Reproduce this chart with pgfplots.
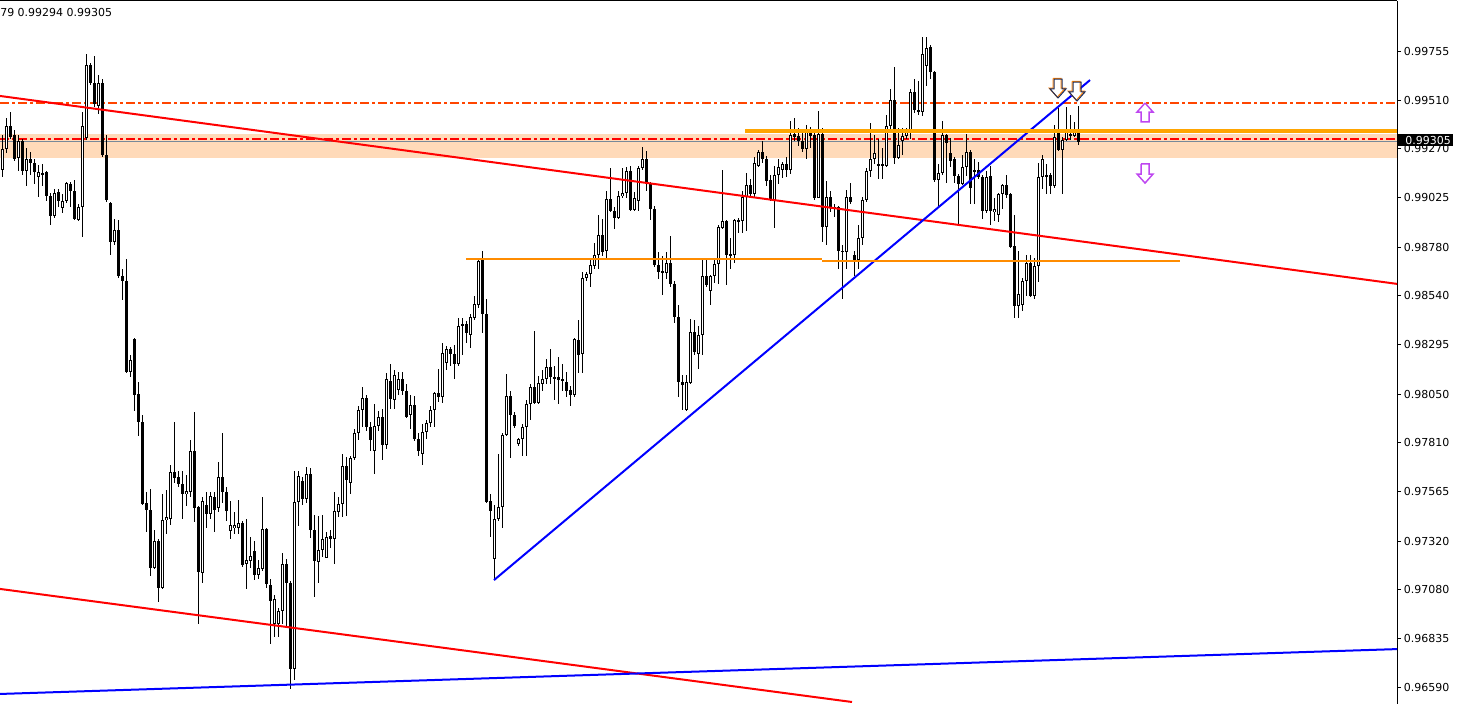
\documentclass[border=0pt]{standalone}
\usepackage{fontspec}
\usepackage{pgfplots}
\usepackage{pgfplotstable}
\pgfplotsset{compat=1.18}
\newfontfamily\chartfont{DejaVu Sans}
\newcommand\tf{\chartfont\fontsize{8.25bp}{10bp}\selectfont}

\definecolor{peach}{RGB}{255,218,185}
\definecolor{mtorange}{RGB}{255,165,0}
\definecolor{darkorange}{RGB}{255,140,0}
\definecolor{askorange}{RGB}{255,69,0}
\definecolor{bidgray}{RGB}{119,136,153}
\definecolor{violetarrow}{RGB}{190,70,240}
\definecolor{navyarrow}{RGB}{30,45,90}

% one row per bar: index, open, high, low, close
\pgfplotstableread{
i o h l c
0 0.99164 0.99338 0.99129 0.99268
1 0.99268 0.99423 0.99249 0.99383
2 0.99383 0.99452 0.99318 0.99328
3 0.99338 0.99363 0.99209 0.99219
4 0.99224 0.99338 0.99159 0.99308
5 0.99308 0.99318 0.99139 0.99159
6 0.99159 0.99273 0.99085 0.99219
7 0.99219 0.99254 0.99139 0.99199
8 0.99199 0.99219 0.99095 0.99154
9 0.99129 0.99189 0.99030 0.99154
10 0.99139 0.99194 0.99085 0.99149
11 0.99154 0.99159 0.99010 0.99035
12 0.99035 0.99050 0.98891 0.98935
13 0.98935 0.99070 0.98926 0.99050
14 0.99055 0.99070 0.98980 0.99010
15 0.98975 0.99045 0.98950 0.99010
16 0.99010 0.99104 0.99000 0.99099
17 0.99095 0.99104 0.98980 0.99060
18 0.99060 0.99114 0.98916 0.98921
19 0.98916 0.98995 0.98911 0.98980
20 0.98980 0.99452 0.98831 0.99383
21 0.99323 0.99741 0.99313 0.99686
22 0.99686 0.99696 0.99587 0.99596
23 0.99596 0.99731 0.99477 0.99492
24 0.99482 0.99636 0.99442 0.99596
25 0.99596 0.99616 0.99229 0.99239
26 0.99239 0.99338 0.99005 0.99015
27 0.99000 0.99005 0.98742 0.98806
28 0.98806 0.98921 0.98791 0.98866
29 0.98866 0.98916 0.98627 0.98637
30 0.98637 0.98672 0.98518 0.98612
31 0.98612 0.98722 0.98155 0.98160
32 0.98160 0.98245 0.98135 0.98220
33 0.98324 0.98329 0.97966 0.98046
34 0.98051 0.98110 0.97842 0.97912
35 0.97912 0.97946 0.97499 0.97504
36 0.97509 0.97564 0.97365 0.97474
37 0.97474 0.97579 0.97146 0.97186
38 0.97186 0.97375 0.97181 0.97320
39 0.97320 0.97330 0.97017 0.97087
40 0.97087 0.97554 0.97082 0.97425
41 0.97425 0.97574 0.97355 0.97440
42 0.97430 0.97698 0.97400 0.97663
43 0.97663 0.97912 0.97608 0.97633
44 0.97638 0.97668 0.97589 0.97604
45 0.97604 0.97668 0.97430 0.97554
46 0.97554 0.97648 0.97494 0.97569
47 0.97564 0.97822 0.97539 0.97768
48 0.97768 0.97961 0.97415 0.97484
49 0.97489 0.97494 0.96908 0.97166
50 0.97161 0.97539 0.97111 0.97519
51 0.97499 0.97564 0.97385 0.97454
52 0.97454 0.97564 0.97430 0.97544
53 0.97539 0.97564 0.97365 0.97474
54 0.97484 0.97713 0.97464 0.97638
55 0.97638 0.97857 0.97509 0.97564
56 0.97564 0.97589 0.97420 0.97469
57 0.97370 0.97519 0.97330 0.97400
58 0.97385 0.97464 0.97355 0.97400
59 0.97385 0.97524 0.97355 0.97410
60 0.97410 0.97420 0.97191 0.97201
61 0.97206 0.97430 0.97082 0.97226
62 0.97221 0.97340 0.97186 0.97246
63 0.97271 0.97320 0.97126 0.97151
64 0.97151 0.97226 0.97131 0.97186
65 0.97181 0.97539 0.97171 0.97380
66 0.97380 0.97385 0.97087 0.97107
67 0.97102 0.97131 0.96808 0.97022
68 0.96908 0.97052 0.96843 0.97032
69 0.96908 0.96987 0.96843 0.96972
70 0.96972 0.97261 0.96908 0.97206
71 0.97206 0.97231 0.96888 0.97111
72 0.97111 0.97121 0.96585 0.96684
73 0.96684 0.97668 0.96629 0.97514
74 0.97514 0.97668 0.97395 0.97643
75 0.97618 0.97638 0.97499 0.97529
76 0.97529 0.97688 0.97509 0.97653
77 0.97653 0.97683 0.97335 0.97375
78 0.97375 0.97449 0.97042 0.97221
79 0.97216 0.97444 0.97111 0.97276
80 0.97276 0.97449 0.97241 0.97330
81 0.97236 0.97365 0.97236 0.97340
82 0.97345 0.97375 0.97285 0.97330
83 0.97330 0.97564 0.97206 0.97469
84 0.97464 0.97539 0.97440 0.97504
85 0.97504 0.97753 0.97440 0.97693
86 0.97693 0.97738 0.97444 0.97623
87 0.97608 0.97743 0.97554 0.97733
88 0.97733 0.97877 0.97723 0.97857
89 0.97857 0.97991 0.97822 0.97971
90 0.97971 0.98086 0.97887 0.98031
91 0.98031 0.98046 0.97867 0.97887
92 0.97887 0.97912 0.97768 0.97822
93 0.97768 0.98001 0.97653 0.97892
94 0.97892 0.97966 0.97867 0.97937
95 0.97937 0.97976 0.97723 0.97797
96 0.97797 0.98155 0.97777 0.98125
97 0.98115 0.98200 0.97976 0.98026
98 0.98021 0.98170 0.97976 0.98145
99 0.98071 0.98160 0.98046 0.98125
100 0.98125 0.98160 0.98046 0.98066
101 0.98066 0.98101 0.97932 0.97937
102 0.97946 0.98046 0.97877 0.97996
103 0.97996 0.98041 0.97817 0.97827
104 0.97827 0.97857 0.97743 0.97768
105 0.97753 0.97902 0.97698 0.97862
106 0.97862 0.97922 0.97827 0.97907
107 0.97907 0.97991 0.97887 0.97971
108 0.97971 0.98061 0.97887 0.98056
109 0.98056 0.98175 0.98011 0.98036
110 0.98036 0.98304 0.98006 0.98255
111 0.98205 0.98289 0.98170 0.98274
112 0.98274 0.98284 0.98190 0.98250
113 0.98250 0.98294 0.98125 0.98200
114 0.98200 0.98429 0.98190 0.98389
115 0.98399 0.98429 0.98245 0.98389
116 0.98399 0.98414 0.98304 0.98354
117 0.98344 0.98448 0.98279 0.98434
118 0.98429 0.98538 0.98419 0.98498
119 0.98493 0.98727 0.98478 0.98712
120 0.98717 0.98762 0.98354 0.98448
121 0.98448 0.98523 0.97509 0.97514
122 0.97519 0.97554 0.97340 0.97469
123 0.97231 0.97499 0.97126 0.97430
124 0.97430 0.97753 0.97420 0.97489
125 0.97489 0.97857 0.97385 0.97847
126 0.97847 0.98150 0.97842 0.98041
127 0.98041 0.98066 0.97733 0.97946
128 0.97946 0.97961 0.97882 0.97892
129 0.97802 0.97832 0.97792 0.97827
130 0.97827 0.97902 0.97743 0.97887
131 0.97887 0.98021 0.97743 0.98001
132 0.98001 0.98101 0.97922 0.98086
133 0.98086 0.98364 0.98001 0.98006
134 0.98006 0.98140 0.98001 0.98105
135 0.98101 0.98170 0.98066 0.98125
136 0.98125 0.98225 0.98101 0.98185
137 0.98185 0.98274 0.98101 0.98135
138 0.98135 0.98190 0.98021 0.98125
139 0.98135 0.98235 0.98001 0.98120
140 0.98115 0.98200 0.98066 0.98125
141 0.98110 0.98160 0.98036 0.98066
142 0.98071 0.98091 0.97991 0.98046
143 0.98046 0.98329 0.98036 0.98324
144 0.98319 0.98419 0.98155 0.98245
145 0.98250 0.98657 0.98155 0.98627
146 0.98627 0.98657 0.98612 0.98647
147 0.98647 0.98727 0.98583 0.98692
148 0.98687 0.98801 0.98672 0.98742
149 0.98742 0.98940 0.98672 0.98841
150 0.98841 0.98921 0.98737 0.98757
151 0.98762 0.99060 0.98727 0.99020
152 0.99020 0.99174 0.98955 0.98960
153 0.98960 0.98980 0.98871 0.98926
154 0.98926 0.99060 0.98921 0.99035
155 0.99035 0.99174 0.99025 0.99050
156 0.99050 0.99179 0.99025 0.99159
157 0.99159 0.99184 0.98960 0.98965
158 0.98965 0.99055 0.98960 0.99025
159 0.99010 0.99184 0.98960 0.99174
160 0.99174 0.99278 0.99164 0.99219
161 0.99219 0.99259 0.99060 0.99095
162 0.99095 0.99104 0.98916 0.98970
163 0.98970 0.98985 0.98682 0.98692
164 0.98692 0.98757 0.98622 0.98657
165 0.98662 0.98737 0.98543 0.98652
166 0.98652 0.98757 0.98622 0.98702
167 0.98702 0.98836 0.98583 0.98598
168 0.98598 0.98612 0.98404 0.98434
169 0.98434 0.98493 0.98036 0.98110
170 0.98110 0.98145 0.97971 0.98096
171 0.97971 0.98145 0.97966 0.98110
172 0.98105 0.98424 0.98101 0.98359
173 0.98359 0.98419 0.98245 0.98260
174 0.98250 0.98389 0.98175 0.98344
175 0.98344 0.98717 0.98245 0.98637
176 0.98637 0.98717 0.98583 0.98593
177 0.98563 0.98642 0.98493 0.98637
178 0.98637 0.98717 0.98603 0.98697
179 0.98697 0.98891 0.98598 0.98881
180 0.98876 0.99164 0.98871 0.98911
181 0.98911 0.98916 0.98593 0.98742
182 0.98747 0.98826 0.98672 0.98737
183 0.98742 0.98921 0.98702 0.98916
184 0.98916 0.98926 0.98851 0.98906
185 0.98911 0.99060 0.98851 0.99030
186 0.99030 0.99149 0.98861 0.99090
187 0.99090 0.99119 0.99030 0.99045
188 0.99045 0.99229 0.99030 0.99199
189 0.99184 0.99264 0.99179 0.99254
190 0.99254 0.99308 0.99199 0.99219
191 0.99219 0.99234 0.99085 0.99109
192 0.99114 0.99139 0.99010 0.99015
193 0.99015 0.99184 0.98876 0.99139
194 0.99139 0.99219 0.99095 0.99179
195 0.99164 0.99204 0.99124 0.99194
196 0.99194 0.99229 0.99129 0.99164
197 0.99164 0.99408 0.99144 0.99338
198 0.99343 0.99423 0.99308 0.99328
199 0.99333 0.99373 0.99283 0.99308
200 0.99308 0.99353 0.99254 0.99268
201 0.99268 0.99388 0.99219 0.99368
202 0.99368 0.99378 0.99273 0.99333
203 0.99338 0.99363 0.99015 0.99025
204 0.99025 0.99457 0.99025 0.99343
205 0.99343 0.99373 0.98806 0.98881
206 0.98881 0.99109 0.98791 0.99030
207 0.99030 0.99060 0.98955 0.98980
208 0.98980 0.98995 0.98931 0.98970
209 0.98980 0.98985 0.98672 0.98762
210 0.98762 0.98791 0.98523 0.98757
211 0.98757 0.99065 0.98672 0.99030
212 0.99030 0.99099 0.98995 0.99005
213 0.98742 0.98762 0.98637 0.98717
214 0.98717 0.98891 0.98672 0.98826
215 0.98826 0.99030 0.98791 0.99015
216 0.99015 0.99174 0.99005 0.99159
217 0.99159 0.99398 0.99129 0.99219
218 0.99219 0.99338 0.99194 0.99249
219 0.99194 0.99318 0.99119 0.99189
220 0.99194 0.99273 0.99119 0.99184
221 0.99184 0.99437 0.99179 0.99383
222 0.99383 0.99567 0.99353 0.99512
223 0.99512 0.99676 0.99194 0.99224
224 0.99224 0.99373 0.99219 0.99288
225 0.99308 0.99373 0.99239 0.99333
226 0.99333 0.99373 0.99318 0.99353
227 0.99353 0.99567 0.99318 0.99552
228 0.99552 0.99616 0.99447 0.99462
229 0.99452 0.99606 0.99437 0.99462
230 0.99452 0.99825 0.99432 0.99741
231 0.99681 0.99825 0.99582 0.99770
232 0.99775 0.99785 0.99616 0.99651
233 0.99651 0.99656 0.99104 0.99114
234 0.99114 0.99194 0.98985 0.99149
235 0.99149 0.99408 0.99139 0.99338
236 0.99338 0.99343 0.99099 0.99298
237 0.99249 0.99323 0.99179 0.99209
238 0.99219 0.99229 0.99099 0.99134
239 0.99134 0.99144 0.98891 0.99095
240 0.99095 0.99239 0.99090 0.99179
241 0.99179 0.99343 0.99134 0.99254
242 0.99254 0.99264 0.98995 0.99075
243 0.99164 0.99219 0.98995 0.99154
244 0.99164 0.99204 0.99119 0.99129
245 0.99129 0.99139 0.98921 0.98960
246 0.98960 0.99159 0.98950 0.99129
247 0.99134 0.99184 0.98891 0.98960
248 0.98955 0.99025 0.98911 0.98970
249 0.98940 0.99050 0.98906 0.99045
250 0.99045 0.99095 0.98970 0.99090
251 0.99090 0.99139 0.99025 0.99040
252 0.99045 0.99050 0.98776 0.98781
253 0.98786 0.98940 0.98429 0.98488
254 0.98488 0.98762 0.98429 0.98548
255 0.98493 0.98627 0.98463 0.98612
256 0.98612 0.98742 0.98538 0.98702
257 0.98702 0.98742 0.98533 0.98538
258 0.98538 0.98727 0.98523 0.98687
259 0.98687 0.99199 0.98607 0.99129
260 0.99129 0.99239 0.99070 0.99219
261 0.99139 0.99194 0.99045 0.99134
262 0.99139 0.99149 0.99045 0.99085
263 0.99085 0.99388 0.99075 0.99328
264 0.99353 0.99472 0.99259 0.99264
265 0.99264 0.99328 0.99045 0.99313
266 0.99313 0.99477 0.99308 0.99363
267 0.99333 0.99437 0.99313 0.99343
268 0.99333 0.99403 0.99328 0.99368
269 0.99368 0.99482 0.99288 0.99305
}\candles

\begin{document}
\begin{tikzpicture}
\begin{axis}[
  at={(0,0)}, anchor=south west, scale only axis,
  width=1047.75bp, height=527.25bp,
  xmin=-0.675, xmax=348.575,
  ymin=0.965101, ymax=1.00004,
  axis x line*=top, axis y line*=right,
  axis line style={black, line width=0.75bp},
  xtick=\empty,
  ytick={0.96590,0.96835,0.97080,0.97320,0.97565,0.97810,0.98050,0.98295,0.98540,0.98780,0.99025,0.99270,0.99510,0.99755},
  yticklabels={0.96590,0.96835,0.97080,0.97320,0.97565,0.97810,0.98050,0.98295,0.98540,0.98780,0.99025,0.99270,0.99510,0.99755},
  tick align=outside, major tick length=3bp,
  tick style={black, line width=0.75bp},
  yticklabel style={font=\tf, anchor=west, inner sep=0pt, xshift=2bp},
  clip=false,
]
% support zone
\addplot[draw=none, fill=peach] coordinates {(-0.675,0.99224) (348.575,0.99224) (348.575,0.99341) (-0.675,0.99341)};

% price lines
\addplot[askorange, line width=1.5bp, dash pattern=on 6.75bp off 2.25bp on 2.25bp off 2.25bp] coordinates {(-0.675,0.994946) (348.575,0.994946)};
\addplot[red, line width=1.5bp, dash pattern=on 6.75bp off 2.25bp on 2.25bp off 2.25bp] coordinates {(-0.675,0.993182) (348.575,0.993182)};
\addplot[bidgray, line width=0.75bp] coordinates {(-0.675,0.993058) (348.575,0.993058)};

% wicks
\addplot[draw=none, mark=none, error bars/.cd, y dir=both, y explicit, error mark=none,
  error bar style={draw=black, solid, line width=0.75bp}]
  table[x=i, y expr={(max(\thisrow{h},\thisrow{o},\thisrow{c})+min(\thisrow{l},\thisrow{o},\thisrow{c}))/2},
    y error expr={(max(\thisrow{h},\thisrow{o},\thisrow{c})-min(\thisrow{l},\thisrow{o},\thisrow{c}))/2}] {\candles};
% bodies
\addplot[draw=none, mark=none, error bars/.cd, y dir=both, y explicit, error mark=none,
  error bar style={draw=black, solid, line width=2.25bp}]
  table[x=i, y expr={(\thisrow{o}+\thisrow{c})/2}, y error expr={max(abs(\thisrow{c}-\thisrow{o})/2,0.000025)}] {\candles};
% hollow inside of rising bars
\addplot[draw=none, mark=none, restrict expr to domain={\thisrow{c}-\thisrow{o}}{0.00011:1},
  error bars/.cd, y dir=both, y explicit, error mark=none,
  error bar style={draw=white, solid, line width=0.75bp}]
  table[x=i, y expr={(\thisrow{o}+\thisrow{c})/2}, y error expr={max((\thisrow{c}-\thisrow{o})/2-0.00005,0)}] {\candles};

% trend lines
\addplot[red, line width=1.5bp] coordinates {(-0.675,0.99532) (348.575,0.98598)};
\addplot[red, line width=1.5bp] coordinates {(-0.675,0.97082) (212.325,0.96520)};
\addplot[blue, line width=1.5bp] coordinates {(-0.675,0.96560) (348.575,0.96783)};
\addplot[blue, line width=1.5bp] coordinates {(122.825,0.97126) (271.825,0.99611)};

% horizontal levels
\addplot[mtorange, line width=2.5bp] coordinates {(185.575,0.99358) (348.575,0.99358)};
\addplot[darkorange, line width=1.5bp] coordinates {(115.825,0.98722) (204.825,0.98722)};
\addplot[darkorange, line width=1.5bp] coordinates {(204.825,0.98714) (294.325,0.98714)};

% arrow signs
\addplot[draw=orange, fill=white, line width=0.75bp, xshift=-0.6bp, yshift=0.6bp] coordinates {(262.825,0.99616) (264.825,0.99616) (264.825,0.99567) (265.825,0.99567) (263.825,0.99522) (261.825,0.99567) (262.825,0.99567) (262.825,0.99616)};
\addplot[draw=navyarrow, line width=0.75bp] coordinates {(262.825,0.99616) (264.825,0.99616) (264.825,0.99567) (265.825,0.99567) (263.825,0.99522) (261.825,0.99567) (262.825,0.99567) (262.825,0.99616)};
\addplot[draw=orange, fill=white, line width=0.75bp, xshift=-0.6bp, yshift=0.6bp] coordinates {(267.575,0.99601) (269.575,0.99601) (269.575,0.99552) (270.575,0.99552) (268.575,0.99507) (266.575,0.99552) (267.575,0.99552) (267.575,0.99601)};
\addplot[draw=navyarrow, line width=0.75bp] coordinates {(267.575,0.99601) (269.575,0.99601) (269.575,0.99552) (270.575,0.99552) (268.575,0.99507) (266.575,0.99552) (267.575,0.99552) (267.575,0.99601)};
\addplot[draw=violetarrow, fill=white, line width=1.1bp] coordinates {(285.575,0.99497) (287.575,0.99452) (286.575,0.99452) (286.575,0.99403) (284.575,0.99403) (284.575,0.99452) (283.575,0.99452) (285.575,0.99497)};
\addplot[draw=violetarrow, fill=white, line width=1.1bp] coordinates {(284.575,0.99194) (286.575,0.99194) (286.575,0.99144) (287.575,0.99144) (285.575,0.99099) (283.575,0.99144) (284.575,0.99144) (284.575,0.99194)};
\end{axis}
% current price tag and header text
\fill[black] (1048.5bp,418.5bp) rectangle (1089.75bp,427.125bp);
\node[anchor=west, inner sep=0pt, text=white, font=\tf] at (1053.75bp,422.7bp) {0.99305};
\node[anchor=west, inner sep=0pt, font=\tf] at (0bp,518.6bp) {79 0.99294 0.99305};
\pgfresetboundingbox
\path[use as bounding box] (0,0) rectangle (1095bp,528bp);
\end{tikzpicture}
\end{document}
